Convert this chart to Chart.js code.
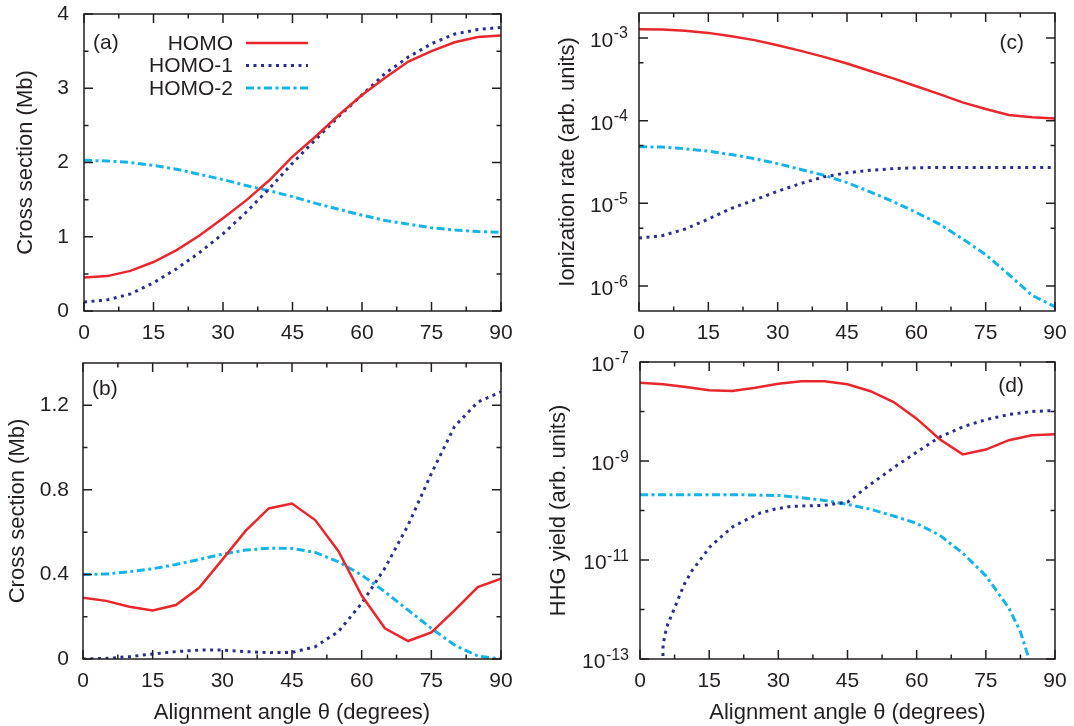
<!DOCTYPE html>
<html>
<head>
<meta charset="utf-8">
<title>Cross sections, ionization rates and HHG yields</title>
<script src="https://cdn.jsdelivr.net/npm/chart.js@4.4.1/dist/chart.umd.min.js"></script>
<style>
  body { margin: 0; background: #fff; }
  canvas { position: absolute; }
</style>
</head>
<body>
<canvas id="panelA" width="537" height="340" style="left:0;top:0;width:537px;height:340px"></canvas>
<canvas id="panelC" width="537" height="340" style="left:537px;top:0;width:537px;height:340px"></canvas>
<canvas id="panelB" width="537" height="386" style="left:0;top:340px;width:537px;height:386px"></canvas>
<canvas id="panelD" width="537" height="386" style="left:537px;top:340px;width:537px;height:386px"></canvas>
<script>
const FONT = "'Liberation Sans', Arial, Helvetica, sans-serif";
const INK = "#231f20";

const seriesNames = ["HOMO", "HOMO-1", "HOMO-2"];
const angles = [0, 5, 10, 15, 20, 25, 30, 35, 40, 45, 50, 55, 60, 65, 70, 75, 80, 85, 90];

// (a) cross section, Mb
const crossA_homo  = [0.45, 0.47, 0.54, 0.66, 0.82, 1.02, 1.25, 1.49, 1.76, 2.08, 2.35, 2.64, 2.91, 3.14, 3.36, 3.50, 3.62, 3.69, 3.71];
const crossA_homo1 = [0.12, 0.15, 0.23, 0.38, 0.57, 0.79, 1.04, 1.33, 1.65, 1.99, 2.31, 2.62, 2.91, 3.20, 3.42, 3.60, 3.73, 3.79, 3.82];
const crossA_homo2 = [2.03, 2.02, 2.00, 1.96, 1.91, 1.84, 1.77, 1.69, 1.62, 1.54, 1.45, 1.37, 1.29, 1.22, 1.17, 1.12, 1.09, 1.07, 1.06];

// (b) cross section, Mb
const crossB_homo  = [0.29, 0.275, 0.247, 0.23, 0.255, 0.337, 0.47, 0.606, 0.712, 0.735, 0.657, 0.51, 0.30, 0.145, 0.085, 0.126, 0.23, 0.34, 0.38];
const crossB_homo1 = [0, 0.003, 0.011, 0.024, 0.035, 0.042, 0.042, 0.035, 0.03, 0.031, 0.058, 0.13, 0.263, 0.43, 0.633, 0.877, 1.10, 1.215, 1.263];
const crossB_homo2 = [0.40, 0.402, 0.413, 0.427, 0.447, 0.471, 0.496, 0.515, 0.524, 0.523, 0.504, 0.46, 0.397, 0.318, 0.231, 0.145, 0.066, 0.014, 0.0];

// (c) ionization rate, arb. units
const rate_homo  = [1.27e-3, 1.26e-3, 1.22e-3, 1.15e-3, 1.05e-3, 9.4e-4, 8.15e-4, 6.97e-4, 5.9e-4, 4.9e-4, 3.98e-4, 3.24e-4, 2.6e-4, 2.09e-4, 1.66e-4, 1.38e-4, 1.17e-4, 1.10e-4, 1.06e-4];
const rate_homo1 = [3.8e-6, 4.07e-6, 4.9e-6, 6.46e-6, 8.7e-6, 1.1e-5, 1.4e-5, 1.74e-5, 2.09e-5, 2.34e-5, 2.51e-5, 2.63e-5, 2.69e-5, 2.72e-5, 2.72e-5, 2.72e-5, 2.72e-5, 2.72e-5, 2.72e-5];
const rate_homo2 = [4.84e-5, 4.79e-5, 4.57e-5, 4.27e-5, 3.89e-5, 3.47e-5, 3.02e-5, 2.57e-5, 2.19e-5, 1.78e-5, 1.38e-5, 1.05e-5, 7.76e-6, 5.62e-6, 3.72e-6, 2.4e-6, 1.38e-6, 7.76e-7, 5.62e-7];

// (d) HHG yield, arb. units
const hhg_homo = [3.8e-8, 3.55e-8, 3.13e-8, 2.69e-8, 2.6e-8, 3.02e-8, 3.63e-8, 4.07e-8, 4.07e-8, 3.55e-8, 2.57e-8, 1.55e-8, 7.16e-9, 2.75e-9, 1.36e-9, 1.7e-9, 2.63e-9, 3.31e-9, 3.47e-9];
const hhg_homo1Angles = [4.85, 5.0, 5.8, 7.05, 8.35, 9.6, 11.25, 13.2, 15.2, 17.6, 20.1, 23.2, 26.1, 29.3, 32.6, 35.8, 40, 45, 50, 55, 60, 65, 70, 75, 80, 85, 90];
const hhg_homo1 = [1e-14, 2e-13, 4.47e-13, 8.5e-13, 1.68e-12, 3.24e-12, 6.03e-12, 1.05e-11, 1.86e-11, 2.95e-11, 4.68e-11, 6.6e-11, 8.9e-11, 1.07e-10, 1.2e-10, 1.24e-10, 1.27e-10, 1.48e-10, 3.39e-10, 7.33e-10, 1.51e-9, 3.05e-9, 4.9e-9, 6.84e-9, 8.7e-9, 1.0e-8, 1.05e-8];
const hhg_homo2Angles = [0, 5, 10, 15, 20, 25, 30, 35, 40, 45, 50, 55, 60, 65, 70, 75, 80, 82.5, 84.2, 85.5];
const hhg_homo2 = [2.09e-10, 2.09e-10, 2.09e-10, 2.09e-10, 2.09e-10, 2.05e-10, 2.0e-10, 1.82e-10, 1.6e-10, 1.33e-10, 1.06e-10, 7.76e-11, 5.5e-11, 3.16e-11, 1.38e-11, 4.79e-12, 1.07e-12, 3.55e-13, 1.12e-13, 4e-14];

// axis ticks
const xTicks = [0, 15, 30, 45, 60, 75, 90];
const xMinor = [7.5, 22.5, 37.5, 52.5, 67.5, 82.5];
const yTicksA = [0, 1, 2, 3, 4];
const yMinorA = [0.5, 1.5, 2.5, 3.5];
const yTicksB = [0, 0.4, 0.8, 1.2];
const yMinorB = [0.2, 0.6, 1.0];
const yTicksC = [1e-6, 1e-5, 1e-4, 1e-3];
const yMinorC = [5e-6, 5e-5, 5e-4];
const yTicksD = [1e-13, 1e-11, 1e-9, 1e-7];
const yMinorD = [1e-12, 1e-10, 1e-8];

const styles = [
  { borderColor: "#e8262b", borderWidth: 2.5, borderDash: [] },
  { borderColor: "#2b2e8c", borderWidth: 3, borderDash: [3, 4.5] },
  { borderColor: "#14b4e9", borderWidth: 3, borderDash: [8, 3.5, 3, 3.5] }
];

// frame with inward ticks on all four sides, log labels, panel tag, legend
const framePlugin = {
  id: "frame",
  afterDatasetsDraw(chart, args, o) {
    const { ctx, chartArea: a } = chart;
    const xs = chart.scales.x, ys = chart.scales.y;
    ctx.save();
    ctx.strokeStyle = INK;
    ctx.lineWidth = 1.5;
    ctx.setLineDash([]);
    ctx.beginPath();
    const vTick = (v, len) => {
      const p = xs.getPixelForValue(v);
      ctx.moveTo(p, a.bottom); ctx.lineTo(p, a.bottom - len);
      ctx.moveTo(p, a.top); ctx.lineTo(p, a.top + len);
    };
    const hTick = (v, len) => {
      const p = ys.getPixelForValue(v);
      ctx.moveTo(a.left, p); ctx.lineTo(a.left + len, p);
      ctx.moveTo(a.right, p); ctx.lineTo(a.right - len, p);
    };
    xTicks.forEach(v => vTick(v, 9));
    xMinor.forEach(v => vTick(v, 4.5));
    o.yMajor.forEach(v => hTick(v, 9));
    o.yMinor.forEach(v => hTick(v, 4.5));
    ctx.stroke();
    ctx.strokeRect(a.left, a.top, a.width, a.height);

    ctx.fillStyle = INK;
    if (o.logLabels) {
      const right = a.left - 11;
      o.yMajor.forEach(v => {
        const p = ys.getPixelForValue(v);
        const exp = String(Math.round(Math.log10(v)));
        ctx.textAlign = "right";
        ctx.textBaseline = "alphabetic";
        ctx.font = "16px " + FONT;
        const ew = ctx.measureText(exp).width;
        ctx.fillText(exp, right, p + 0.5);
        ctx.font = "21px " + FONT;
        ctx.fillText("10", right - ew - 0.5, p + 9);
      });
    }

    ctx.font = "21px " + FONT;
    ctx.textBaseline = "middle";
    if (o.tagSide === "left") {
      ctx.textAlign = "left";
      ctx.fillText(o.tag, a.left + 9, a.top + o.tagDy);
    } else {
      ctx.textAlign = "right";
      ctx.fillText(o.tag, a.right - 31, a.top + o.tagDy);
    }

    if (o.legend) {
      chart.data.datasets.forEach((ds, i) => {
        const yy = a.top + 29 + i * 22.5;
        ctx.textAlign = "right";
        ctx.fillStyle = INK;
        ctx.fillText(ds.label, a.left + 149, yy + 1);
        ctx.beginPath();
        ctx.strokeStyle = ds.borderColor;
        ctx.lineWidth = ds.borderWidth;
        ctx.setLineDash(ds.borderDash);
        ctx.moveTo(a.left + 162, yy);
        ctx.lineTo(a.left + 224, yy);
        ctx.stroke();
      });
    }
    ctx.restore();
  }
};

function makeChart(id, cfg) {
  const datasets = cfg.series.map((s, i) => Object.assign({
    label: seriesNames[i],
    data: s[0].map((x, k) => ({ x: x, y: s[1][k] })),
    pointRadius: 0,
    tension: 0,
    fill: false
  }, styles[i]));

  const yScale = {
    type: cfg.log ? "logarithmic" : "linear",
    min: cfg.yMin,
    max: cfg.yMax,
    afterBuildTicks: s => { s.ticks = cfg.yMajor.map(v => ({ value: v })); },
    afterFit: s => { s.width = cfg.yWidth; s.paddingTop = 0; s.paddingBottom = 0; },
    grid: { display: false, drawTicks: false },
    border: { display: false },
    ticks: {
      display: !cfg.log,
      padding: cfg.yPad,
      color: INK,
      font: { family: FONT, size: 21 },
      callback: v => (v === 0 ? "0" : (cfg.yDigits ? v.toFixed(cfg.yDigits) : String(v)))
    },
    title: {
      display: true,
      text: cfg.yTitle,
      color: INK,
      padding: 0,
      font: { family: FONT, size: 22 }
    }
  };

  const xScale = {
    type: "linear",
    min: 0,
    max: 90,
    afterBuildTicks: s => { s.ticks = xTicks.map(v => ({ value: v })); },
    afterFit: s => { s.height = cfg.xHeight; s.paddingLeft = 0; s.paddingRight = 0; },
    grid: { display: false, drawTicks: false },
    border: { display: false },
    ticks: {
      padding: 10,
      color: INK,
      autoSkip: false,
      maxRotation: 0,
      font: { family: FONT, size: 21 }
    },
    title: {
      display: cfg.xTitle,
      text: "Alignment angle \u03b8 (degrees)",
      color: INK,
      padding: 0,
      font: { family: FONT, size: 22 }
    }
  };

  return new Chart(document.getElementById(id), {
    type: "line",
    data: { datasets: datasets },
    options: {
      responsive: false,
      animation: false,
      devicePixelRatio: 1,
      layout: { padding: cfg.padding },
      scales: { x: xScale, y: yScale },
      plugins: {
        legend: { display: false },
        tooltip: { enabled: false },
        frame: {
          yMajor: cfg.yMajor,
          yMinor: cfg.yMinor,
          logLabels: cfg.log,
          tag: cfg.tag,
          tagSide: cfg.tagSide,
          tagDy: cfg.tagDy,
          legend: cfg.legend
        }
      }
    },
    plugins: [framePlugin]
  });
}

makeChart("panelA", {
  series: [[angles, crossA_homo], [angles, crossA_homo1], [angles, crossA_homo2]],
  yMin: 0, yMax: 4, yMajor: yTicksA, yMinor: yMinorA, yDigits: 0,
  yTitle: "Cross section (Mb)", yWidth: 71, yPad: 15,
  xHeight: 29, xTitle: false,
  padding: { left: 13, top: 14, right: 36, bottom: 0 },
  tag: "(a)", tagSide: "left", tagDy: 29, legend: true
});

makeChart("panelB", {
  series: [[angles, crossB_homo], [angles, crossB_homo1], [angles, crossB_homo2]],
  yMin: 0, yMax: 1.4, yMajor: yTicksB, yMinor: yMinorB, yDigits: 1,
  yTitle: "Cross section (Mb)", yWidth: 78, yPad: 14,
  xHeight: 67, xTitle: true,
  padding: { left: 5, top: 23, right: 36, bottom: 0 },
  tag: "(b)", tagSide: "left", tagDy: 26, legend: false
});

makeChart("panelC", {
  series: [[angles, rate_homo], [angles, rate_homo1], [angles, rate_homo2]],
  log: true, yMin: 5e-7, yMax: 2e-3, yMajor: yTicksC, yMinor: yMinorC,
  yTitle: "Ionization rate (arb. units)", yWidth: 84, yPad: 11,
  xHeight: 29, xTitle: false,
  padding: { left: 18, top: 13, right: 19, bottom: 0 },
  tag: "(c)", tagSide: "right", tagDy: 30, legend: false
});

makeChart("panelD", {
  series: [[angles, hhg_homo], [hhg_homo1Angles, hhg_homo1], [hhg_homo2Angles, hhg_homo2]],
  log: true, yMin: 1e-13, yMax: 1e-7, yMajor: yTicksD, yMinor: yMinorD,
  yTitle: "HHG yield (arb. units)", yWidth: 94, yPad: 11,
  xHeight: 67, xTitle: true,
  padding: { left: 9, top: 22, right: 19, bottom: 0 },
  tag: "(d)", tagSide: "right", tagDy: 24, legend: false
});
</script>
</body>
</html>
